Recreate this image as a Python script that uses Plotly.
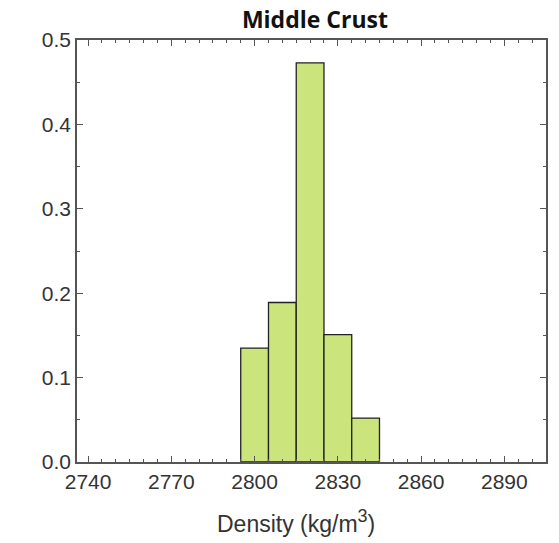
import plotly.graph_objects as go

bin_centers = [2800, 2810, 2820, 2830, 2840]
probabilities = [0.135, 0.189, 0.473, 0.151, 0.052]
bin_width = 10
x_ticks = [2740, 2770, 2800, 2830, 2860, 2890]
y_ticks = [0.0, 0.1, 0.2, 0.3, 0.4, 0.5]
y_tick_labels = ["0.0", "0.1", "0.2", "0.3", "0.4", "0.5"]

fig = go.Figure()
fig.add_trace(go.Bar(
    x=bin_centers, y=probabilities, width=bin_width,
    marker=dict(color="#CBE57C", line=dict(color="#222222", width=1.3)),
))

axis_common = dict(
    showline=True, linecolor="#555555", linewidth=1.5, mirror="ticks",
    ticks="inside", ticklen=6, tickwidth=1, tickcolor="#555555",
    showgrid=False, zeroline=False,
    tickfont=dict(family="Liberation Sans, Arial", size=21, color="#333333"),
)

# body has an 8px default margin in the page; size the figure to compensate
fig.update_layout(
    width=551, height=535,
    margin=dict(l=69, r=13, t=32, b=81),
    paper_bgcolor="white", plot_bgcolor="white",
    showlegend=False,
    title=dict(text="<b>Middle Crust</b>", x=0.557, xanchor="center", y=0.978, yanchor="middle",
               font=dict(family="Open Sans, Noto Sans", size=23, color="#111111")),
    xaxis=dict(range=[2736, 2905], tickvals=x_ticks,
               minor=dict(dtick=5, tick0=2740, ticks="inside", ticklen=3, tickcolor="#555555"),
               **axis_common),
    yaxis=dict(range=[0, 0.5], tickvals=y_ticks, ticktext=y_tick_labels,
               minor=dict(dtick=0.05, tick0=0, ticks="inside", ticklen=3, tickcolor="#555555"),
               **axis_common),
    annotations=[dict(
        text="Density (kg/m<sup><span style='font-size:18px'>3</span></sup>)",
        xref="paper", yref="paper", x=0.467, y=-0.142, xanchor="center", yanchor="middle",
        showarrow=False,
        font=dict(family="Liberation Sans, Arial", size=23, color="#333333"),
    )],
)

fig.write_html("out.html")
